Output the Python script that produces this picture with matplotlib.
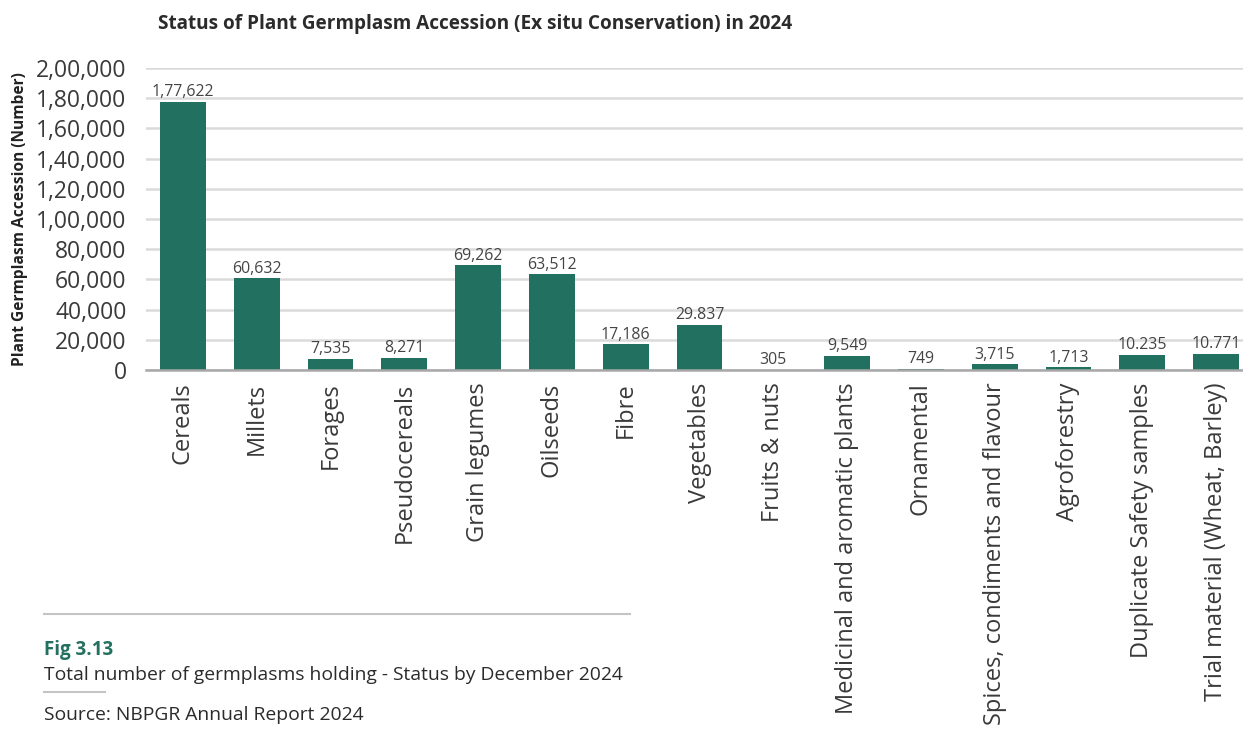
import matplotlib.pyplot as plt
from matplotlib.ticker import FuncFormatter

# Accessions per crop group
categories = ['Cereals', 'Millets', 'Forages', 'Pseudocereals', 'Grain legumes',
              'Oilseeds', 'Fibre', 'Vegetables', 'Fruits & nuts',
              'Medicinal and aromatic plants', 'Ornamental',
              'Spices, condiments and flavour', 'Agroforestry',
              'Duplicate Safety samples', 'Trial material (Wheat, Barley)']
accessions = [177622, 60632, 7535, 8271, 69262, 63512, 17186, 29837, 305,
              9549, 749, 3715, 1713, 10235, 10771]
value_labels = ['1,77,622', '60,632', '7,535', '8,271', '69,262', '63,512',
                '17,186', '29.837', '305', '9,549', '749', '3,715', '1,713',
                '10.235', '10.771']
y_ticks = [0, 20000, 40000, 60000, 80000, 100000, 120000, 140000, 160000,
           180000, 200000]

green = '#22705f'
text_col = '#3a3a3a'
plt.rcParams['font.family'] = ['Open Sans', 'DejaVu Sans']


def indian_format(v, pos=None):
    s = str(int(v))
    if len(s) <= 3:
        return s
    head, tail = s[:-3], s[-3:]
    parts = []
    while len(head) > 2:
        parts.insert(0, head[-2:])
        head = head[:-2]
    if head:
        parts.insert(0, head)
    return ','.join(parts + [tail])


fig = plt.figure(figsize=(12.43, 7.34), dpi=100)
ax = fig.add_axes([146 / 1243, 1 - 370 / 734, 1107 / 1243, 302 / 734])

x = range(len(categories))
ax.bar(x, accessions, width=0.62, color=green, zorder=3)
for i, (v, lab) in enumerate(zip(accessions, value_labels)):
    ax.text(i, v + 1000, lab, ha='center', va='bottom', fontsize=11.4,
            color='#444444', zorder=4)

ax.set_xlim(-0.5, len(categories) - 0.5)
ax.set_ylim(0, 200000)
ax.set_yticks(y_ticks)
ax.yaxis.set_major_formatter(FuncFormatter(indian_format))
ax.set_xticks(list(x))
ax.set_xticklabels(categories, rotation=90)
ax.tick_params(axis='both', length=0, labelcolor=text_col)
ax.tick_params(axis='y', pad=14, labelsize=16.5)
ax.tick_params(axis='x', pad=9, labelsize=17)

ax.grid(axis='y', color='#dadada', linewidth=1.8, zorder=0)
ax.set_axisbelow(True)
for side in ['top', 'right', 'left']:
    ax.spines[side].set_visible(False)
ax.spines['bottom'].set_color('#a8a8a8')
ax.spines['bottom'].set_linewidth(1.8)
ax.spines['bottom'].set_zorder(5)

ax.set_ylabel('Plant Germplasm Accession (Number)', fontsize=11.2,
              fontweight='bold', color='#222222')
ax.yaxis.set_label_coords(-118 / 1107, 0.5)

fig.text(158 / 1243, 1 - 24 / 734,
         'Status of Plant Germplasm Accession (Ex situ Conservation) in 2024',
         fontsize=13.7, fontweight='bold', color='#2b2b2b', va='center')

# Caption block below the chart
fig.add_artist(plt.Line2D([44 / 1243, 630 / 1243], [1 - 614 / 734] * 2,
                          color='#c4c4c4', linewidth=1.5))
fig.text(44 / 1243, 1 - 650 / 734, 'Fig 3.13', fontsize=13.5,
         fontweight='bold', color=green, va='center')
fig.text(44 / 1243, 1 - 675 / 734,
         'Total number of germplasms holding - Status by December 2024',
         fontsize=13.9, color='#2b2b2b', va='center')
fig.add_artist(plt.Line2D([44 / 1243, 105 / 1243], [1 - 692 / 734] * 2,
                          color='#c4c4c4', linewidth=1.5))
fig.text(44 / 1243, 1 - 715 / 734, 'Source: NBPGR Annual Report 2024',
         fontsize=13.9, color='#2b2b2b', va='center')

fig.savefig('out.png', dpi=100)
